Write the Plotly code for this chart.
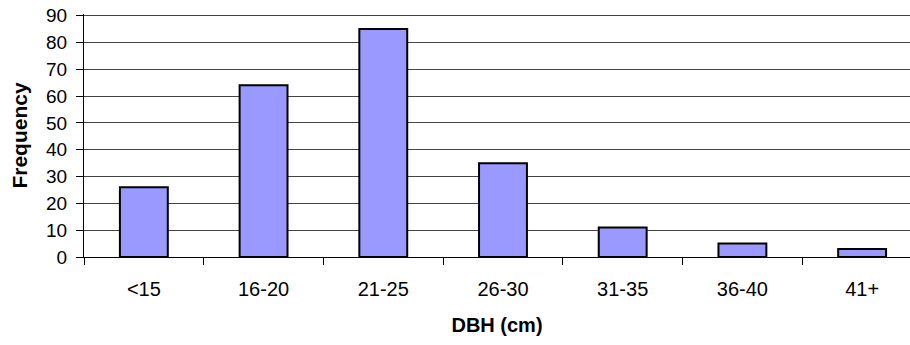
import plotly.graph_objects as go

categories = ["<15", "16-20", "21-25", "26-30", "31-35", "36-40", "41+"]
frequency = [26, 64, 85, 35, 11, 5, 3]
y_ticks = [0, 10, 20, 30, 40, 50, 60, 70, 80, 90]

fig = go.Figure(
    go.Bar(
        x=categories,
        y=frequency,
        marker=dict(color="#9999FF", line=dict(color="#000000", width=2)),
    )
)

FONT = "Liberation Sans, Arial, sans-serif"

fig.update_layout(
    width=910,
    height=345,
    margin=dict(l=84, r=0, t=14, b=88),
    paper_bgcolor="white",
    plot_bgcolor="white",
    bargap=0.6,
    showlegend=False,
    font=dict(family=FONT, size=18, color="black"),
)

fig.update_xaxes(
    type="category",
    range=[-0.5, 6.4],
    automargin=False,
    showgrid=False,
    showline=True,
    linecolor="black",
    linewidth=1,
    ticks="outside",
    tickson="boundaries",
    ticklen=7,
    tickcolor="black",
    tickfont=dict(size=20),
    ticklabelstandoff=14,
    title=dict(text="<b>DBH (cm)</b>", font=dict(size=20), standoff=18),
)

fig.update_yaxes(
    range=[0, 90.6],
    tickvals=y_ticks,
    automargin=False,
    showgrid=True,
    gridcolor="#444444",
    gridwidth=1,
    showline=True,
    linecolor="black",
    linewidth=1,
    ticks="outside",
    ticklen=7,
    tickcolor="black",
    tickfont=dict(size=19),
    ticklabelstandoff=5,
    ticklabeloverflow="allow",
    zeroline=False,
    title=dict(text="<b>Frequency</b>", font=dict(size=21), standoff=12),
)

fig.write_html(
    "out.html",
    config={"displayModeBar": False},
    post_script="document.body.style.margin='0';document.body.style.overflow='hidden';",
)
